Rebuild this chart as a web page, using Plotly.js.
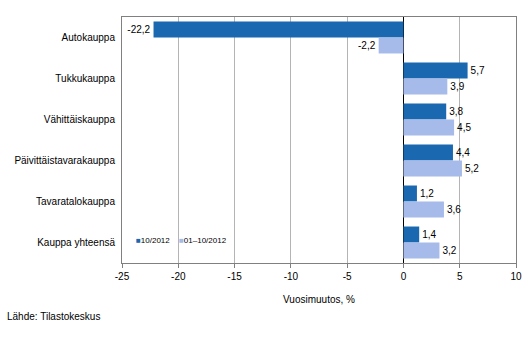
<!DOCTYPE html>
<html><head><meta charset="utf-8">
<script src="https://cdn.plot.ly/plotly-3.0.1.min.js"></script>
<style>body{margin:0;background:#fff}#c{width:532px;height:358px}</style>
</head><body><div id="c"></div>
<script>
const categories = ["Autokauppa","Tukkukauppa","Vähittäiskauppa","Päivittäistavarakauppa","Tavaratalokauppa","Kauppa yhteensä"];
const seriesNames = ["10/2012","01–10/2012"];
const seriesColors = ["#1a68b0","#a6bbea"];
const month = [-22.2, 5.7, 3.8, 4.4, 1.2, 1.4];
const ytd = [-2.2, 3.9, 4.5, 5.2, 3.6, 3.2];
const xTicks = [-25,-20,-15,-10,-5,0,5,10];
const fmt = v => v.toFixed(1).replace('.', ',');
const font = {family:"Liberation Sans, Arial, sans-serif", size:10, color:"#000"};
const mk = (vals, name, color) => ({
  type:"bar", orientation:"h", y:categories, x:vals, name:name,
  marker:{color:color}, text:vals.map(fmt), textposition:"outside",
  textfont:{family:font.family, size:10, color:"#000"}, cliponaxis:false,
  hoverinfo:"none", showlegend:false
});
const data = [mk(month, seriesNames[0], seriesColors[0]), mk(ytd, seriesNames[1], seriesColors[1])];
const legendItem = (i, x) => ({
  text:'<span style="color:'+seriesColors[i]+'">■</span>'+seriesNames[i],
  xref:"paper", yref:"paper", x:x, y:0.09, xanchor:"left", yanchor:"middle",
  showarrow:false, font:{family:font.family, size:8, color:"#000"}
});
const layout = {
  width:532, height:358, margin:{l:122, r:16, t:17, b:95},
  paper_bgcolor:"#fff", plot_bgcolor:"#fff", font:font,
  barmode:"group", bargap:0.22, bargroupgap:0,
  showlegend:false,
  xaxis:{range:[-25,10], tickvals:xTicks, ticktext:xTicks.map(String), showgrid:true, gridcolor:"#b4b4b4",
    zeroline:true, zerolinecolor:"#000", zerolinewidth:1, showline:true, linecolor:"#808080", mirror:true,
    ticks:"outside", ticklen:4, tickcolor:"#808080", tickfont:{size:10},
    title:{text:"Vuosimuutos, %", font:{size:10}, standoff:14}},
  yaxis:{autorange:"reversed", showline:true, linecolor:"#808080", mirror:true, showgrid:false,
    ticks:"", ticklabelstandoff:4, tickfont:{size:10}},
  annotations:[
    legendItem(0, 12/394), legendItem(1, 55/394),
    {text:"Lähde: Tilastokeskus", xref:"paper", yref:"paper", x:-122/394, y:-53/246,
    xanchor:"left", yanchor:"middle", showarrow:false, font:{size:10}, xshift:5}]
};
Plotly.newPlot("c", data, layout, {staticPlot:true});
</script></body></html>
